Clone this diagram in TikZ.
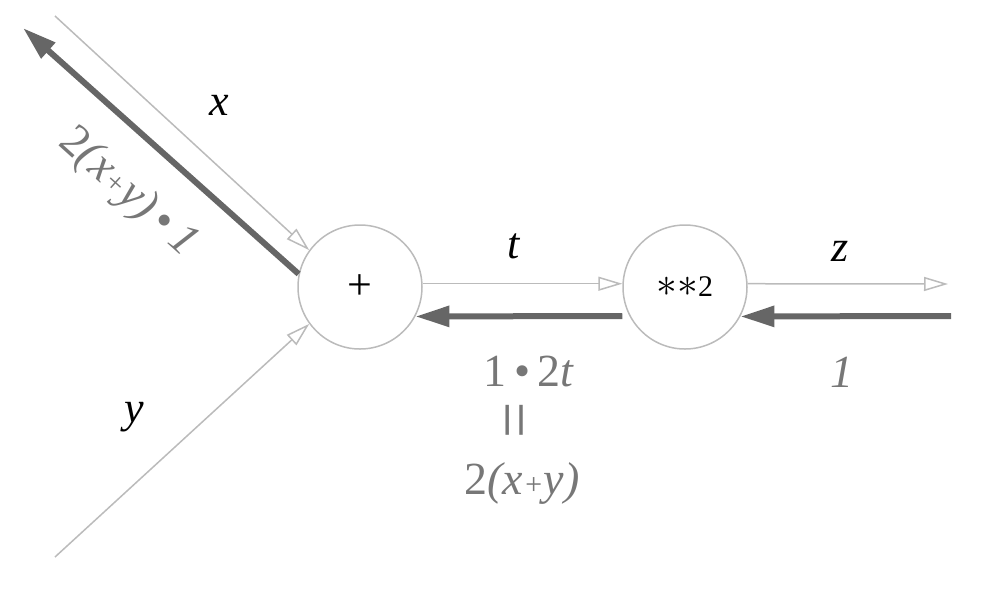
\documentclass[tikz,border=0pt]{standalone}
\usepackage{fontspec}
\setmainfont{Liberation Serif}
\usetikzlibrary{arrows.meta}
\definecolor{thinc}{HTML}{BBBBBB}
\definecolor{thickc}{HTML}{666666}
\definecolor{gtext}{HTML}{777777}
\begin{document}
\begin{tikzpicture}[x=0.5pt,y=-0.5pt,
 op/.style={circle,draw=thinc,line width=0.75pt,minimum size=62pt,inner sep=0pt,font=\fontsize{15}{17}\selectfont},
 fwd/.style={draw=thinc,line width=0.75pt,-{Triangle[open,length=12pt,width=7pt]}},
 bwd/.style={draw=thickc,line width=3pt,-{Triangle[length=17pt,width=10pt]}},
 lab/.style={inner sep=0pt,font=\fontsize{22}{26}\selectfont\itshape},
 glab/.style={inner sep=0pt,text=gtext,font=\fontsize{23}{27}\selectfont}]
\useasboundingbox (0,0) rectangle (997,601);
\node[op] (plus) at (360,287) {\fontsize{22}{24}\selectfont +};
\node[op] (sq) at (685,287) {{\fontsize{20}{22}\selectfont$\mathord{\ast}\mathord{\ast}$}2};
\coordinate (xin) at (55,16);
\coordinate (xout) at (23,28);
\coordinate (yin) at (55,557);
\coordinate (zout) at (948,284);
\coordinate (zin) at (951,316);
\draw[fwd] (xin) -- (plus.144);
\draw[bwd] (plus.168) -- (xout);
\draw[fwd] (yin) -- (plus.216);
\draw[fwd] (plus.3) -- (sq.177);
\draw[bwd] ([yshift=-14.5pt]sq.west) -- (plus.-28);
\draw[fwd] (sq.3) -- (zout);
\draw[bwd] (zin) -- (sq.-28);
\node[lab] (lx) at (219,105) {x};
\node[lab] (lt) at (514,246) {t};
\node[lab] (lz) at (840,251) {z};
\node[lab] (ly) at (134,417) {y};
\node[glab,rotate=-42] (lgx) at (128,193) {2\textit{(x{\fontsize{15}{17}\selectfont+}y)}\,•\,\textit{1}};
\node[glab] (l1) at (842,372) {\textit{1}};
\node[glab] (lg1) at (529,371) {1\,•\,2\textit{t}};
\node[glab,rotate=90] (leq) at (522,420) {\scalebox{1.4}[1.5]{=}};
\node[glab] (lg2) at (522,483) {2\textit{(x{\fontsize{15}{17}\selectfont+}y)}};
\end{tikzpicture}
\end{document}
